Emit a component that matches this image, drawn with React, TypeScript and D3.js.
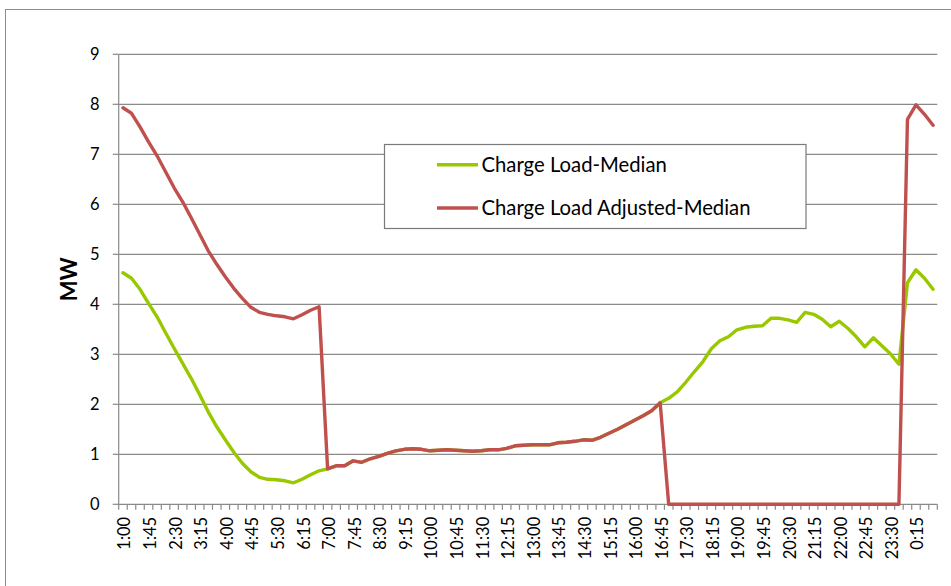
import React from "react";
import * as d3 from "d3";

const categories: string[] = [
  "1:00","1:15","1:30","1:45","2:00","2:15","2:30","2:45","3:00","3:15","3:30","3:45",
  "4:00","4:15","4:30","4:45","5:00","5:15","5:30","5:45","6:00","6:15","6:30","6:45",
  "7:00","7:15","7:30","7:45","8:00","8:15","8:30","8:45","9:00","9:15","9:30","9:45",
  "10:00","10:15","10:30","10:45","11:00","11:15","11:30","11:45","12:00","12:15","12:30","12:45",
  "13:00","13:15","13:30","13:45","14:00","14:15","14:30","14:45","15:00","15:15","15:30","15:45",
  "16:00","16:15","16:30","16:45","17:00","17:15","17:30","17:45","18:00","18:15","18:30","18:45",
  "19:00","19:15","19:30","19:45","20:00","20:15","20:30","20:45","21:00","21:15","21:30","21:45",
  "22:00","22:15","22:30","22:45","23:00","23:15","23:30","23:45","0:00","0:15","0:30","0:45",
];

const chargeLoadMedian: number[] = [
  4.63, 4.52, 4.30, 4.02, 3.75, 3.43, 3.12, 2.82, 2.52, 2.19, 1.85, 1.55,
  1.29, 1.04, 0.82, 0.65, 0.54, 0.50, 0.49, 0.47, 0.43, 0.50, 0.59, 0.67,
  0.71, 0.77, 0.77, 0.87, 0.84, 0.91, 0.96, 1.02, 1.07, 1.10, 1.11, 1.10,
  1.07, 1.08, 1.09, 1.08, 1.07, 1.06, 1.07, 1.09, 1.09, 1.12, 1.17, 1.18,
  1.19, 1.19, 1.19, 1.23, 1.24, 1.26, 1.29, 1.28, 1.34, 1.42, 1.50, 1.59,
  1.68, 1.77, 1.87, 2.03, 2.12, 2.25, 2.44, 2.65, 2.85, 3.11, 3.27, 3.35,
  3.49, 3.54, 3.56, 3.57, 3.72, 3.72, 3.69, 3.64, 3.84, 3.80, 3.70, 3.55,
  3.66, 3.52, 3.35, 3.15, 3.33, 3.17, 3.01, 2.80, 4.43, 4.69, 4.52, 4.30,
];

const chargeLoadAdjustedMedian: number[] = [
  7.93, 7.82, 7.55, 7.25, 6.97, 6.65, 6.33, 6.05, 5.73, 5.40, 5.07, 4.80,
  4.55, 4.32, 4.12, 3.94, 3.84, 3.80, 3.77, 3.75, 3.71, 3.79, 3.88, 3.95,
  0.71, 0.77, 0.77, 0.87, 0.84, 0.91, 0.96, 1.02, 1.07, 1.10, 1.11, 1.10,
  1.07, 1.08, 1.09, 1.08, 1.07, 1.06, 1.07, 1.09, 1.09, 1.12, 1.17, 1.18,
  1.19, 1.19, 1.19, 1.23, 1.24, 1.26, 1.29, 1.28, 1.34, 1.42, 1.50, 1.59,
  1.68, 1.77, 1.87, 2.03, 0, 0, 0, 0, 0, 0, 0, 0,
  0, 0, 0, 0, 0, 0, 0, 0, 0, 0, 0, 0,
  0, 0, 0, 0, 0, 0, 0, 0, 7.70, 7.99, 7.80, 7.58,
];

const yTicks: number[] = [0, 1, 2, 3, 4, 5, 6, 7, 8, 9];
const seriesNames: string[] = ["Charge Load-Median", "Charge Load Adjusted-Median"];
const seriesColors: string[] = ["#99c800", "#c0504d"];

const W = 951;
const H = 586;
const plotLeft = 118.7;
const plotRight = 937.3;
const plotTop = 54.3;
const plotBottom = 504.3;
const FONT = "Lato, 'Open Sans', sans-serif";

export default function App() {
  const idx = categories.map((_, i) => i);
  const x = d3.scaleBand<number>().domain(idx).range([plotLeft, plotRight]).padding(0);
  const y = d3.scaleLinear().domain([0, 9]).range([plotBottom, plotTop]);
  const cx = (i: number) => (x(i) as number) + x.bandwidth() / 2;
  const line = d3
    .line<number>()
    .x((_, i) => cx(i))
    .y((d) => y(d));

  const gridColor = "#8a8a8a";
  const tickXs = idx.map((i) => x(i) as number).concat([plotRight]);

  return (
    <div style={{ position: "fixed", left: 0, top: 0, width: W, height: H, background: "#fff" }}>
      <svg width={W} height={H} style={{ display: "block" }} fontFamily={FONT}>
        <rect x={0} y={0} width={W} height={H} fill="#fff" />
        <rect x={5.5} y={9.5} width={W + 20} height={H + 20} fill="#fff" stroke="#8c8c8c" strokeWidth={1} />

        {/* gridlines */}
        {yTicks.map((t) =>
          t === 0 ? null : (
            <line key={"g" + t} x1={plotLeft} x2={plotRight} y1={y(t)} y2={y(t)} stroke={gridColor} strokeWidth={1.2} />
          )
        )}
        {/* y axis */}
        <line x1={plotLeft} x2={plotLeft} y1={plotTop} y2={plotBottom} stroke={gridColor} strokeWidth={1.2} />
        {yTicks.map((t) => (
          <line key={"yt" + t} x1={plotLeft - 6} x2={plotLeft} y1={y(t)} y2={y(t)} stroke={gridColor} strokeWidth={1.2} />
        ))}
        {yTicks.map((t) => (
          <text key={"yl" + t} x={99.5} y={y(t) + 6} textAnchor="end" fontSize={16.5} fill="#000">
            {t}
          </text>
        ))}
        {/* x axis */}
        <line x1={plotLeft} x2={plotRight} y1={plotBottom} y2={plotBottom} stroke={gridColor} strokeWidth={1.2} />
        {tickXs.map((tx, k) => (
          <line key={"xt" + k} x1={tx} x2={tx} y1={plotBottom} y2={plotBottom + 5.5} stroke={gridColor} strokeWidth={1.2} />
        ))}
        {categories.map((c, i) =>
          i % 3 === 0 ? (
            <text
              key={"xl" + i}
              transform={`translate(${cx(i) + 7.5},${plotBottom + 12.5}) rotate(-90)`}
              textAnchor="end"
              fontSize={16.5}
              fill="#000"
            >
              {c}
            </text>
          ) : null
        )}

        {/* axis title */}
        <text
          transform={`translate(${76.5},${y(4.5)}) rotate(-90)`}
          textAnchor="middle"
          fontSize={22}
          fontWeight="bold"
          fill="#000"
        >
          MW
        </text>

        {/* series */}
        <path d={line(chargeLoadMedian) || ""} fill="none" stroke={seriesColors[0]} strokeWidth={3.4} strokeLinejoin="round" strokeLinecap="round" />
        <path d={line(chargeLoadAdjustedMedian) || ""} fill="none" stroke={seriesColors[1]} strokeWidth={3.4} strokeLinejoin="round" strokeLinecap="round" />

        {/* legend */}
        <rect x={384.5} y={144.5} width={421.5} height={84} fill="#fff" stroke="#7a7a7a" strokeWidth={1.2} />
        {seriesNames.map((n, k) => {
          const ly = 164.7 + k * 43.3;
          return (
            <g key={"lg" + k}>
              <line x1={437} x2={478} y1={ly} y2={ly} stroke={seriesColors[k]} strokeWidth={3.4} />
              <text x={481.5} y={ly + 7} fontSize={20.3} fill="#000">
                {n}
              </text>
            </g>
          );
        })}
      </svg>
    </div>
  );
}
